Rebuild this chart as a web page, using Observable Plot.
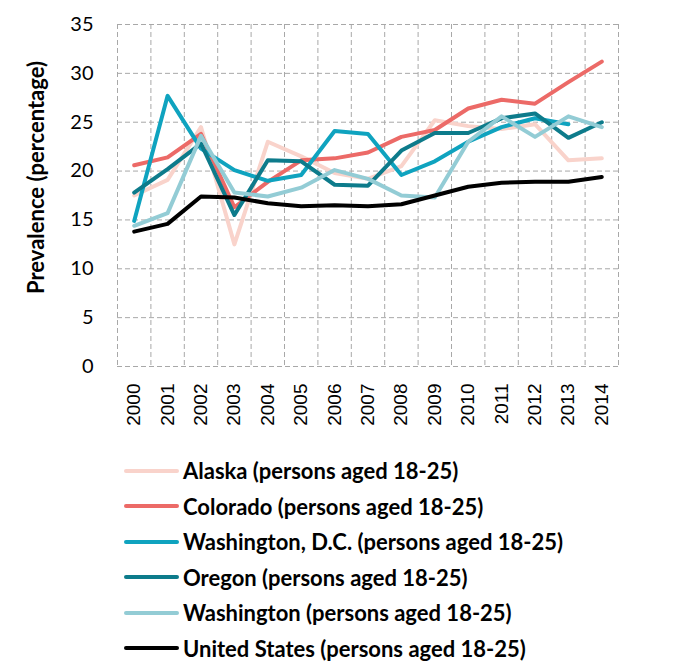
<!DOCTYPE html>
<html><head><meta charset="utf-8">
<script src="https://cdn.jsdelivr.net/npm/d3@7"></script>
<script src="https://cdn.jsdelivr.net/npm/@observablehq/plot@0.6"></script>
<style>
body{margin:0;background:#fff;}
#chart{position:relative;width:681px;height:662px;overflow:hidden;}
#chart svg{position:absolute;left:0;top:0;}
#legend{position:absolute;left:124px;top:453px;font-family:Lato,"Open Sans",sans-serif;font-weight:bold;font-size:22px;line-height:21px;color:#000;}
.row{display:flex;align-items:center;height:35.5px;white-space:nowrap;}
.sw{width:55px;height:4px;margin-right:4px;border-radius:2px;}
</style>
</head><body>
<div id="chart"><div id="legend"></div></div>
<script>
const years = [2000,2001,2002,2003,2004,2005,2006,2007,2008,2009,2010,2011,2012,2013,2014];
const seriesNames = ["Alaska (persons aged 18-25)","Colorado (persons aged 18-25)","Washington, D.C. (persons aged 18-25)","Oregon (persons aged 18-25)","Washington (persons aged 18-25)","United States (persons aged 18-25)"];
const seriesColors = ["#f9d3cb","#ec6a67","#0fa3bf","#0d7b8b","#93ccd5","#000000"];
const alaska     = [17.5, 19.1, 24.5, 12.5, 23.0, 21.5, 19.8, 19.2, 20.5, 25.2, 24.6, 24.3, 24.8, 21.1, 21.3];
const colorado   = [20.6, 21.4, 23.8, 16.3, 18.9, 21.1, 21.3, 21.9, 23.5, 24.2, 26.4, 27.3, 26.9, 29.1, 31.2];
const dc         = [14.9, 27.7, 22.3, 20.1, 19.0, 19.6, 24.1, 23.8, 19.6, 21.0, 23.0, 24.5, 25.4, 24.8, null];
const oregon     = [17.8, 20.2, 22.8, 15.5, 21.1, 21.0, 18.6, 18.5, 22.1, 23.9, 23.9, 25.4, 25.9, 23.4, 25.0];
const washington = [14.4, 15.7, 23.6, 17.8, 17.4, 18.3, 20.1, 19.2, 17.5, 17.3, 23.0, 25.6, 23.5, 25.6, 24.5];
const us         = [13.8, 14.6, 17.4, 17.3, 16.7, 16.4, 16.5, 16.4, 16.6, 17.5, 18.4, 18.8, 18.9, 18.9, 19.4];
const yTicks = [0,5,10,15,20,25,30,35];
const yLabel = "Prevalence (percentage)";

const seriesValues = [alaska, colorado, dc, oregon, washington, us];
const data = seriesNames.flatMap((name, s) =>
  years.map((yr, i) => ({name, year: yr, value: seriesValues[s][i]})).filter(d => d.value != null));
const bounds = [years[0] - 0.5, ...years.map(y => y + 0.5)];
const grid = {stroke: "#a8a8a8", strokeWidth: 1, strokeDasharray: "5,3"};

const chart = Plot.plot({
  width: 681, height: 440,
  marginLeft: 117, marginRight: 63, marginTop: 24, marginBottom: 74,
  style: {fontFamily: "Lato, sans-serif", background: "#fff"},
  x: {domain: [bounds[0], bounds[bounds.length - 1]]},
  y: {domain: [0, 35]},
  color: {domain: seriesNames, range: seriesColors},
  marks: [
    Plot.ruleY(yTicks, grid),
    Plot.ruleX(bounds, grid),
    Plot.axisY({ticks: yTicks, tickSize: 0, tickPadding: 24, fontSize: 20, fontFamily: "Lato, sans-serif", label: null}),
    Plot.axisX({ticks: years, tickFormat: d => String(d), tickSize: 0, tickRotate: -90, tickPadding: 17, fontSize: 19, fontFamily: "Liberation Sans, Arial, sans-serif", label: null}),
    Plot.text([yLabel], {frameAnchor: "left", textAnchor: "middle", rotate: -90, dx: -81, dy: -18, fontWeight: "bold", fontSize: 22, fontFamily: "Lato, sans-serif", fill: "#000"}),
    Plot.line(data, {x: "year", y: "value", z: "name", stroke: "name", strokeWidth: 4, strokeLinejoin: "round", strokeLinecap: "round"})
  ]
});
document.getElementById("chart").prepend(chart);

const legend = document.getElementById("legend");
seriesNames.forEach((n, i) => {
  const row = document.createElement("div");
  row.className = "row";
  const sw = document.createElement("div");
  sw.className = "sw";
  sw.style.background = seriesColors[i];
  const t = document.createElement("span");
  t.textContent = n;
  row.append(sw, t);
  legend.append(row);
});
</script>
</body></html>
